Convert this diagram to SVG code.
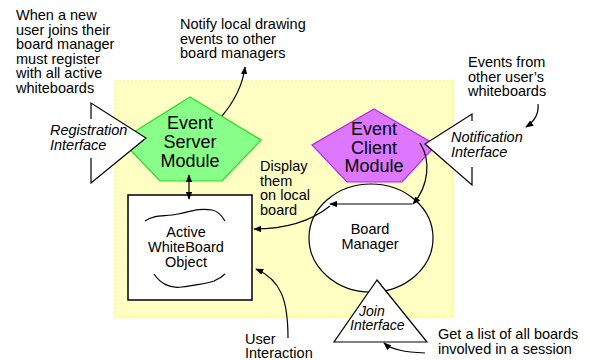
<svg xmlns="http://www.w3.org/2000/svg" width="590" height="360" viewBox="0 0 590 360">
<style>
text{font-family:"Liberation Sans",Arial,sans-serif;font-size:14.5px;fill:#000}
.it{font-style:italic}
.big{font-size:18px;text-anchor:middle}
.mid{text-anchor:middle}
.ln{fill:none;stroke:#000;stroke-width:1.2}
.con{fill:none;stroke:#000;stroke-width:1.2}
</style>
<defs>
<marker id="ah" viewBox="0 0 10 8" refX="9" refY="4" markerWidth="8" markerHeight="6.4" markerUnits="userSpaceOnUse" orient="auto-start-reverse">
<path d="M0,0 L10,4 L0,8 Z" fill="#000"/>
</marker>
</defs>
<rect width="590" height="360" fill="#fff"/>
<rect id="area" x="115" y="81" width="338" height="236" fill="#ffffc4" stroke="#ffff00" stroke-width="1" stroke-dasharray="2,2"/>

<g id="event-server">
<polygon points="190,97 261,140 222,181 160,181 121,140" fill="#88ff88" stroke="#22dd22" stroke-width="1.2"/>
<text class="big" x="190" y="129">Event</text>
<text class="big" x="190" y="148">Server</text>
<text class="big" x="190" y="167">Module</text>
</g>

<g id="event-client">
<polygon points="374,109 436,145 402,182 347,182 312,145" fill="#dd77ff" stroke="#bb22ee" stroke-width="1.2"/>
<text class="big" x="374" y="135">Event</text>
<text class="big" x="374" y="153.5">Client</text>
<text class="big" x="374" y="172">Module</text>
</g>

<g id="registration">
<polygon points="91,103 146,138 91,183" fill="#fff"/>
<path class="ln" d="M91,119 L91,103 L146,138 L91,183 L91,158"/>
<text class="it" x="50" y="135">Registration</text>
<text class="it" x="50" y="150">Interface</text>
</g>

<g id="notification">
<polygon points="472,114 425,144 472,185" fill="#fff"/>
<path class="ln" d="M472,121 L472,114 L425,144 L472,185 L472,167"/>
<text class="it" x="451" y="142">Notification</text>
<text class="it" x="451" y="157">Interface</text>
</g>

<g id="whiteboard">
<rect x="128" y="195" width="124" height="105" fill="#fff" stroke="#000" stroke-width="1.5"/>
<path class="ln" d="M145,221 C155,214 165,217 178,214 C192,211 200,208 212,210 C218,211 222,216 225,221"/>
<path class="ln" d="M154,274 C160,283 170,289 182,287 C195,285 205,284 214,281 C219,279 222,277 225,274"/>
<text class="mid" x="186" y="237">Active</text>
<text class="mid" x="186" y="252">WhiteBoard</text>
<text class="mid" x="186" y="266.5">Object</text>
</g>

<g id="board-manager">
<ellipse cx="371" cy="238" rx="62" ry="54" fill="#fff" stroke="#000" stroke-width="1.2"/>
<text class="mid" x="370" y="234">Board</text>
<text class="mid" x="370" y="249">Manager</text>
</g>

<g id="join">
<polygon points="377,280 427,342 334,342" fill="#fff" stroke="#000" stroke-width="1.2"/>
<text class="it" x="359" y="315.5" style="font-size:14px">Join</text>
<text class="it" x="350" y="330" style="font-size:14px">Interface</text>
</g>

<g id="annotations">
<text x="16" y="20">When a new</text>
<text x="16" y="34.5">user joins their</text>
<text x="16" y="49">board manager</text>
<text x="16" y="63.5">must register</text>
<text x="16" y="78">with all active</text>
<text x="16" y="92.5">whiteboards</text>
<text x="180" y="29">Notify local drawing</text>
<text x="180" y="43.5">events to other</text>
<text x="180" y="58">board managers</text>
<text x="468" y="67">Events from</text>
<text x="468" y="81.5">other user’s</text>
<text x="468" y="96">whiteboards</text>
<text x="260" y="171">Display</text>
<text x="260" y="185.5">them</text>
<text x="260" y="200">on local</text>
<text x="260" y="214.5">board</text>
<text x="245" y="343.5">User</text>
<text x="245" y="358">Interaction</text>
<text x="438" y="339">Get a list of all boards</text>
<text x="438" y="353.5">involved in a session</text>
</g>

<g id="connectors">
<path class="con" d="M222,116 Q242,92 245,67" marker-end="url(#ah)"/>
<path class="con" d="M538,104 C539,114 535,121 526,127" marker-end="url(#ah)"/>
<path class="con" d="M189,175 L189,199" marker-start="url(#ah)" marker-end="url(#ah)"/>
<path class="con" d="M420,143 C431,160 429,186 413,204" marker-end="url(#ah)"/>
<path class="con" d="M412,204 L330,204" marker-end="url(#ah)"/>
<path class="con" d="M330,206 C310,222 285,229 254,229" marker-end="url(#ah)"/>
<path class="con" d="M288,338 C288,300 281,280 256,269" marker-end="url(#ah)"/>
<path class="con" d="M425,353 C405,352 392,350 384,343" marker-end="url(#ah)"/>
</g>
</svg>
